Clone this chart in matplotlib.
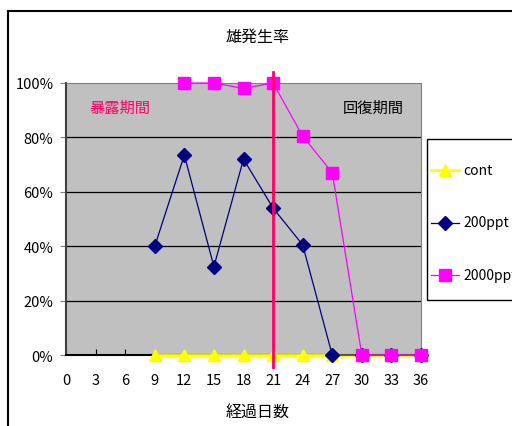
import matplotlib
matplotlib.use("Agg")
import matplotlib.pyplot as plt
from matplotlib.lines import Line2D
from matplotlib.patches import Rectangle
from matplotlib.ticker import PercentFormatter

plt.rcParams['font.family'] = ['Noto Sans CJK JP', 'DejaVu Sans']

days = [9, 12, 15, 18, 21, 24, 27, 30, 33, 36]
cont = [0, 0, 0, 0, 0, 0, 0, 0, 0, 0]
ppt200 = [40, 73.5, 32.5, 72, 54, 40.5, 0, 0, 0, 0]
days2000 = [12, 15, 18, 21, 24, 27, 30, 33, 36]
ppt2000 = [100, 100, 98, 100, 80.5, 67, 0, 0, 0]
series_labels = ['cont', '200ppt', '2000ppt']
xticks = list(range(0, 37, 3))
yticks = [0, 20, 40, 60, 80, 100]
boundary_day = 21

W, H = 512, 427
fig = plt.figure(figsize=(W/100, H/100), dpi=100)
ax = fig.add_axes([66/W, 1-356/H, 355/W, 272/H])
ax.set_facecolor('#C0C0C0')

styles = [
    dict(color='#FFFF00', lw=2, marker='^', ms=9, zorder=3),
    dict(color='#000080', lw=0.9, marker='D', ms=7.5, zorder=4),
    dict(color='#FF00FF', lw=0.9, marker='s', ms=8, zorder=5),
]
for (xs, ys), st in zip([(days, cont), (days, ppt200), (days2000, ppt2000)], styles):
    ax.plot(xs, ys, mfc=st['color'], mec=st['color'], clip_on=False, **st)

ax.plot([boundary_day, boundary_day], [104, -4.4], color='#FF0066', lw=2,
        clip_on=False, zorder=6)

ax.set_xlim(0, 36)
ax.set_ylim(0, 100)
ax.set_xticks(xticks)
ax.set_yticks(yticks)
ax.yaxis.set_major_formatter(PercentFormatter(decimals=0))
for y in yticks[1:-1]:
    ax.axhline(y, color='black', lw=0.9, zorder=1)

for s in ['top', 'right']:
    ax.spines[s].set_color('#808080')
ax.spines['left'].set_color('#404040')
ax.spines['left'].set_linewidth(1.5)
ax.spines['bottom'].set_color('black')
ax.spines['bottom'].set_linewidth(1.5)
ax.tick_params(axis='x', direction='in', length=4, pad=13, labelsize=10.5, color='black')
ax.tick_params(axis='y', direction='out', length=4, pad=5, labelsize=10.5, color='#808080')

ax.text(5.5, 91, '暴露期間', color='#FF0066', fontsize=11, ha='center', va='center')
ax.text(31.2, 91, '回復期間', color='black', fontsize=11, ha='center', va='center')

fig.text(258/W, 1-37/H, '雄発生率', fontsize=11.5, ha='center', va='center')
fig.text(258/W, 1-413/H, '経過日数', fontsize=11.5, ha='center', va='center')

# Legend box, drawn by hand so its right side runs past the figure edge
fig.add_artist(Rectangle((427/W, 1-301/H), 120/W, 161/H, transform=fig.transFigure,
                         facecolor='white', edgecolor='black', lw=1))
for i, (lab, st) in enumerate(zip(series_labels, styles)):
    yy = 1 - (171 + 52.5*i)/H
    fig.add_artist(Line2D([431/W, 459/W], [yy, yy], color=st['color'], lw=st['lw'],
                          transform=fig.transFigure))
    fig.add_artist(Line2D([445/W], [yy], color=st['color'], marker=st['marker'],
                          ms=st['ms'], mfc=st['color'], mec=st['color'], ls='none',
                          transform=fig.transFigure))
    fig.text(463/W, yy, lab, fontsize=10, ha='left', va='center')

fig.add_artist(Line2D([8/W, 1], [1-12/H, 1-12/H], color='black', lw=1.5,
                      transform=fig.transFigure))
fig.add_artist(Line2D([8/W, 8/W], [1-12/H, 0], color='black', lw=1.5,
                      transform=fig.transFigure))

fig.savefig('out.png', dpi=100)
